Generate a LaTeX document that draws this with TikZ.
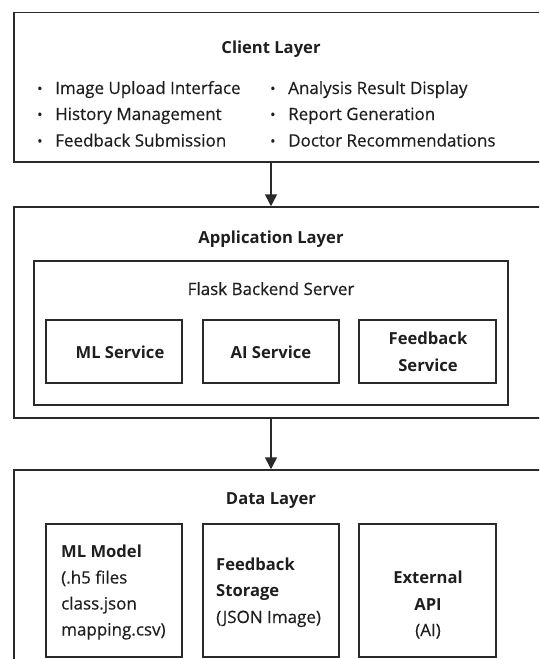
\documentclass[tikz,border=0pt]{standalone}
\usepackage{fontspec}
\setmainfont{Open Sans}[UprightFeatures={FakeBold=0.4}]
\usetikzlibrary{arrows.meta,fit}
\definecolor{ln}{HTML}{2A2A2A}
\definecolor{tx}{HTML}{1E1E1E}
\newcommand{\bulx}{\makebox[18pt][l]{\hspace{0pt}\raisebox{0.5pt}{\fontsize{14}{14}\selectfont •}}}
\begin{document}
\begin{tikzpicture}[x=1pt,y=-1pt,
  frame/.style={draw=ln,line width=1.5pt,inner sep=0pt},
  txt/.style={text=tx,inner sep=0pt,font=\fontsize{17}{26}\selectfont},
  btxt/.style={text=tx,inner sep=0pt,font=\fontsize{16.6}{26}\selectfont\bfseries},
  flow/.style={draw=ln,line width=1.5pt,-{Triangle[length=12pt,width=12pt]}}]
\useasboundingbox (0,0) rectangle (539,659);
\clip (0,0) rectangle (539,659);
% layers
\node[frame,fit={(14,12.5) (580,162)}] (client) {};
\node[frame,fit={(14,207) (580,418)}] (app) {};
\node[frame,fit={(14,470) (580,700)}] (data) {};
% client layer
\node[btxt,anchor=base] (ct) at (271,53.5) {Client Layer};
\node[txt,anchor=base west] (c1) at (37,94) {\bulx Image Upload Interface};
\node[txt,anchor=base west] (c2) at (37,120) {\bulx History Management};
\node[txt,anchor=base west] (c3) at (37,146.5) {\bulx Feedback Submission};
\node[txt,anchor=base west] (c4) at (270,94) {\bulx Analysis Result Display};
\node[txt,anchor=base west] (c5) at (270,120) {\bulx Report Generation};
\node[txt,anchor=base west] (c6) at (270,146.5) {\bulx Doctor Recommendations};
% application layer
\node[btxt,anchor=base] (at) at (271,243) {Application Layer};
\node[frame,fit={(34,261) (508,405)}] (flask) {};
\node[txt,anchor=base] (ft) at (271,295) {Flask Backend Server};
\node[frame,fit={(46,320) (182,383)}] (ml) {};
\node[frame,fit={(203,320) (339,383)}] (ai) {};
\node[frame,fit={(359,320) (496,383)}] (fb) {};
\node[btxt,anchor=base] (mlt) at (120,358) {ML Service};
\node[btxt,anchor=base] (ait) at (271,358) {AI Service};
\node[btxt,anchor=base] (fbt1) at (428,344.5) {Feedback};
\node[btxt,anchor=base] (fbt2) at (428,371) {Service};
% data layer
\node[btxt,anchor=base] (dt) at (271,504) {Data Layer};
\node[frame,fit={(46,524) (182,657)}] (mm) {};
\node[frame,fit={(203,524) (339,657)}] (fs) {};
\node[frame,fit={(359,524) (496,657)}] (ea) {};
\node[btxt,anchor=base west] (mm1) at (61,557.7) {ML Model};
\node[txt,anchor=base west] (mm2) at (61,583.5) {(.h5 files};
\node[txt,anchor=base west] (mm3) at (61,609.5) {class.json};
\node[txt,anchor=base west] (mm4) at (61,635.5) {mapping.csv)};
\node[btxt,anchor=base west] (fs1) at (216,570) {Feedback};
\node[btxt,anchor=base west] (fs2) at (216,596.5) {Storage};
\node[txt,anchor=base west] (fs3) at (216,623) {(JSON Image)};
\node[btxt,anchor=base] (ea1) at (428,583.5) {External};
\node[btxt,anchor=base] (ea2) at (428,610) {API};
\node[txt,anchor=base] (ea3) at (428,636) {(AI)};
% arrows
\draw[flow] (client.south -| flask.north) -- (app.north -| flask.north);
\draw[flow] (app.south -| flask.north) -- (data.north -| flask.north);
\end{tikzpicture}
\end{document}
